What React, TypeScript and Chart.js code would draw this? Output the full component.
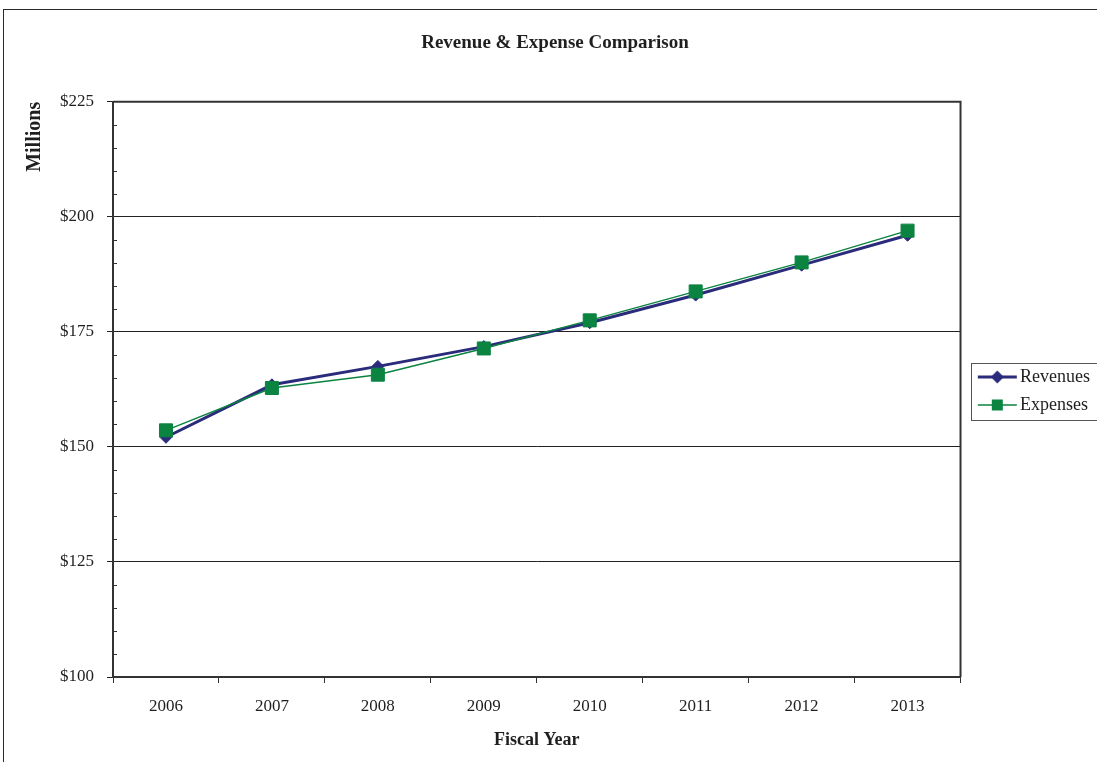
import React, { useEffect, useRef } from 'react';
import { Chart, registerables } from 'chart.js';

Chart.register(...registerables);

// ---- data ----
const fiscalYears = ['2006', '2007', '2008', '2009', '2010', '2011', '2012', '2013'];
const revenues = [152.1, 163.5, 167.5, 171.8, 177.0, 183.0, 189.5, 196.0];
const expenses = [153.6, 162.8, 165.7, 171.4, 177.5, 183.8, 190.1, 197.0];
const yTickValues = [100, 125, 150, 175, 200, 225];
const minorStep = 5;

const chartTitle = 'Revenue & Expense Comparison';
const xTitle = 'Fiscal Year';
const yTitle = 'Millions';
const seriesNames = ['Revenues', 'Expenses'];

// ---- styles ----
const NAVY = '#2B2B7C';
const GREEN = '#0B8341';
const TEXT = '#1f1f1f';
const FONT = '"Liberation Serif", "Times New Roman", serif';
const CANVAS_W = 1110;
const CANVAS_H = 780;

function legendSwatch(color: string, lineWidth: number, marker: 'diamond' | 'square') {
  const c = document.createElement('canvas');
  c.width = 60;
  c.height = 18;
  const ctx = c.getContext('2d')!;
  const cy = 9;
  ctx.strokeStyle = color;
  ctx.lineWidth = lineWidth;
  ctx.beginPath();
  ctx.moveTo(17, cy);
  ctx.lineTo(56, cy);
  ctx.stroke();
  const cx = 36.5;
  ctx.fillStyle = color;
  ctx.beginPath();
  if (marker === 'diamond') {
    ctx.moveTo(cx - 6.5, cy);
    ctx.lineTo(cx, cy - 6.5);
    ctx.lineTo(cx + 6.5, cy);
    ctx.lineTo(cx, cy + 6.5);
    ctx.closePath();
  } else {
    ctx.rect(cx - 5.5, cy - 5.5, 11, 11);
  }
  ctx.fill();
  return c;
}

const framePlugin = {
  id: 'framePlugin',
  beforeDraw(chart: any) {
    const { ctx, width, height } = chart;
    ctx.save();
    ctx.fillStyle = '#ffffff';
    ctx.fillRect(0, 0, width, height);
    ctx.strokeStyle = '#2a2a2a';
    ctx.lineWidth = 1;
    ctx.strokeRect(3.5, 9.5, width + 50, height + 50);
    ctx.restore();
  },
  afterDraw(chart: any) {
    const { ctx, chartArea } = chart;
    const y = chart.scales.y;
    ctx.save();
    // plot frame: top and right
    ctx.strokeStyle = '#333333';
    ctx.lineWidth = 2;
    ctx.beginPath();
    ctx.moveTo(chartArea.left, chartArea.top);
    ctx.lineTo(chartArea.right, chartArea.top);
    ctx.lineTo(chartArea.right, chartArea.bottom);
    ctx.stroke();
    // minor ticks on the value axis
    ctx.lineWidth = 1;
    ctx.strokeStyle = '#333333';
    const lo = yTickValues[0];
    const hi = yTickValues[yTickValues.length - 1];
    const major = yTickValues[1] - yTickValues[0];
    for (let v = lo + minorStep; v < hi; v += minorStep) {
      if ((v - lo) % major === 0) continue;
      const py = Math.round(y.getPixelForValue(v)) + 0.5;
      ctx.beginPath();
      ctx.moveTo(chartArea.left, py);
      ctx.lineTo(chartArea.left + 4, py);
      ctx.stroke();
    }
    // legend border
    const lg = chart.legend;
    const hb = lg && lg.legendHitBoxes;
    if (hb && hb.length) {
      const first = hb[0];
      const last = hb[hb.length - 1];
      const left = Math.round(first.left) + 0.5;
      const top = Math.round(first.top - 5) + 0.5;
      const bottom = Math.round(last.top + last.height + 6) + 0.5;
      ctx.strokeStyle = '#555555';
      ctx.lineWidth = 1;
      ctx.strokeRect(left, top, 200, bottom - top);
    }
    ctx.restore();
  },
};

export default function App() {
  const canvasRef = useRef<HTMLCanvasElement | null>(null);

  useEffect(() => {
    const canvas = canvasRef.current;
    if (!canvas) return;
    const swatches = [legendSwatch(NAVY, 3, 'diamond'), legendSwatch(GREEN, 1.5, 'square')];
    const chart = new Chart(canvas, {
      type: 'line',
      data: {
        labels: fiscalYears,
        datasets: [
          {
            label: seriesNames[0],
            data: revenues,
            borderColor: NAVY,
            backgroundColor: NAVY,
            borderWidth: 3,
            pointStyle: 'rectRot',
            pointRadius: 6,
            pointBorderWidth: 1,
            pointBorderColor: NAVY,
            pointBackgroundColor: NAVY,
            tension: 0,
            fill: false,
            order: 1,
          },
          {
            label: seriesNames[1],
            data: expenses,
            borderColor: GREEN,
            backgroundColor: GREEN,
            borderWidth: 1.5,
            pointStyle: 'rect',
            pointRadius: 9.2,
            pointBorderWidth: 1,
            pointBorderColor: GREEN,
            pointBackgroundColor: GREEN,
            tension: 0,
            fill: false,
            order: 0,
          },
        ],
      },
      options: {
        responsive: false,
        animation: false,
        devicePixelRatio: 1,
        layout: { padding: { left: 10, right: 10, top: 0, bottom: 23 } },
        plugins: {
          title: {
            display: true,
            text: chartTitle,
            color: TEXT,
            font: { family: FONT, size: 19, weight: 'bold' },
            padding: { top: 32, bottom: 47 },
          },
          legend: {
            display: true,
            position: 'right',
            align: 'center',
            title: {
              display: true,
              text: '',
              font: { family: FONT, size: 10 },
              padding: { top: 13, bottom: 0 },
            },
            labels: {
              usePointStyle: true,
              pointStyleWidth: 40.5,
              padding: 10,
              color: TEXT,
              font: { family: FONT, size: 18 },
              generateLabels: (ch: any) =>
                ch.data.datasets.map((ds: any, i: number) => ({
                  text: ds.label,
                  pointStyle: swatches[i],
                  fillStyle: 'rgba(0,0,0,0)',
                  strokeStyle: 'rgba(0,0,0,0)',
                  lineWidth: 0,
                  hidden: false,
                  datasetIndex: i,
                  fontColor: TEXT,
                })),
            },
          },
          tooltip: { enabled: false },
        },
        scales: {
          x: {
            type: 'category',
            offset: true,
            grid: {
              offset: true,
              drawOnChartArea: false,
              drawTicks: true,
              tickLength: 6,
              color: '#333333',
              lineWidth: 1,
            },
            border: { display: true, color: '#333333', width: 2 },
            ticks: {
              color: TEXT,
              font: { family: FONT, size: 17 },
              padding: 13,
              maxRotation: 0,
              autoSkip: false,
            },
            title: {
              display: true,
              text: xTitle,
              color: TEXT,
              font: { family: FONT, size: 18, weight: 'bold' },
              padding: { top: 0, bottom: 6 },
            },
            afterFit: (s: any) => {
              s.height = 80;
            },
          },
          y: {
            type: 'linear',
            min: yTickValues[0],
            max: yTickValues[yTickValues.length - 1],
            afterBuildTicks: (s: any) => {
              s.ticks = yTickValues.map((v) => ({ value: v }));
            },
            grid: {
              color: '#222222',
              lineWidth: 1,
              drawTicks: true,
              tickLength: 6,
            },
            border: { display: true, color: '#333333', width: 2 },
            ticks: {
              color: TEXT,
              font: { family: FONT, size: 17 },
              padding: 13,
              callback: (v: any) => '$' + v,
            },
            title: {
              display: true,
              text: yTitle,
              align: 'end',
              color: TEXT,
              font: { family: FONT, size: 20, weight: 'bold' },
              padding: { top: 13, bottom: 0 },
            },
            afterFit: (s: any) => {
              s.width = 103;
            },
          },
        },
      },
      plugins: [framePlugin],
    } as any);
    return () => {
      chart.destroy();
    };
  }, []);

  return (
    <div
      style={{
        position: 'fixed',
        left: 0,
        top: 0,
        width: 1097,
        height: 762,
        overflow: 'hidden',
        background: '#ffffff',
      }}
    >
      <canvas ref={canvasRef} width={CANVAS_W} height={CANVAS_H} style={{ display: 'block' }} />
    </div>
  );
}
